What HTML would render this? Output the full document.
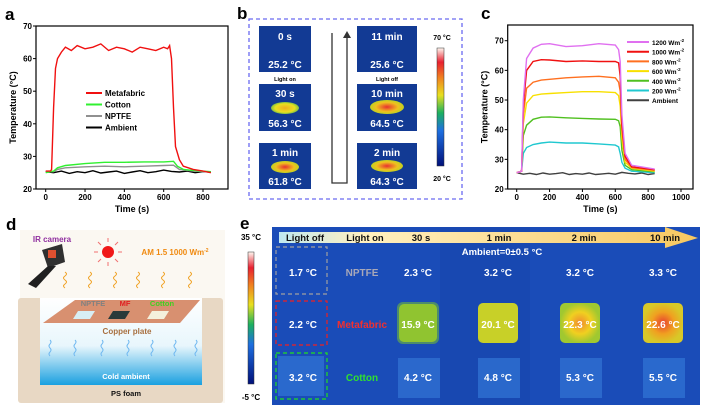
<!DOCTYPE html>
<html><head><meta charset="utf-8"><style>
body{margin:0;background:#fff;}
svg{display:block;font-family:"Liberation Sans",Arial,sans-serif;font-weight:bold;}
</style></head><body>
<svg id="fig" width="709" height="414" viewBox="0 0 709 414" xmlns="http://www.w3.org/2000/svg">
<defs>
<linearGradient id="jet" x1="0" y1="1" x2="0" y2="0">
<stop offset="0" stop-color="#00107a"/><stop offset="0.3" stop-color="#1e6fe0"/><stop offset="0.45" stop-color="#1cb060"/><stop offset="0.6" stop-color="#e8e020"/><stop offset="0.75" stop-color="#f08020"/><stop offset="0.88" stop-color="#e82030"/><stop offset="1" stop-color="#fff8f0"/>
</linearGradient>
<linearGradient id="cold" x1="0" y1="0" x2="0" y2="1"><stop offset="0" stop-color="#ffffff"/><stop offset="0.55" stop-color="#e8f6fc"/><stop offset="1" stop-color="#1aa0e0"/></linearGradient>
<linearGradient id="banner" x1="0" y1="0" x2="1" y2="0"><stop offset="0" stop-color="#bfe8f0"/><stop offset="0.2" stop-color="#fff0c0"/><stop offset="1" stop-color="#f8c860"/></linearGradient>
<radialGradient id="blobY"><stop offset="0" stop-color="#f0b020"/><stop offset="0.7" stop-color="#e8e020"/><stop offset="1" stop-color="#80c040"/></radialGradient>
<radialGradient id="blobR"><stop offset="0" stop-color="#e83030"/><stop offset="0.65" stop-color="#f0c020"/><stop offset="1" stop-color="#c0d020"/></radialGradient>
<radialGradient id="sqY"><stop offset="0" stop-color="#f08a30"/><stop offset="0.55" stop-color="#f0d020"/><stop offset="1" stop-color="#a0c830"/></radialGradient>
<radialGradient id="sqR"><stop offset="0" stop-color="#e84030"/><stop offset="0.55" stop-color="#f0a020"/><stop offset="1" stop-color="#d8c828"/></radialGradient>
</defs>

<text x="5" y="20" font-size="17">a</text>
<text x="237" y="19" font-size="17">b</text>
<text x="481" y="19" font-size="17">c</text>
<text x="6" y="230" font-size="17">d</text>
<text x="240" y="229" font-size="17">e</text>

<g id="chartA"></g>
<g id="chartC"></g>

<!-- panel b -->
<g>
<rect x="249" y="19" width="213" height="180" fill="none" stroke="#6a6af0" stroke-width="1.3" stroke-dasharray="4,3"/>
<g fill="#123a94">
<rect x="259" y="26" width="52" height="46"/><rect x="259" y="84" width="52" height="47"/><rect x="259" y="143" width="52" height="46"/>
<rect x="357" y="26" width="60" height="46"/><rect x="357" y="84" width="60" height="47"/><rect x="357" y="143" width="60" height="46"/>
</g>
<ellipse cx="285" cy="108" rx="14" ry="6" fill="url(#blobY)"/>
<ellipse cx="285" cy="167" rx="14" ry="6" fill="url(#blobR)"/>
<ellipse cx="387" cy="107" rx="17" ry="7" fill="url(#blobR)"/>
<ellipse cx="387" cy="166" rx="16" ry="6" fill="url(#blobR)"/>
<g fill="#fff" font-size="10" text-anchor="middle">
<text x="285" y="40">0 s</text><text x="285" y="68">25.2 °C</text>
<text x="285" y="97">30 s</text><text x="285" y="127">56.3 °C</text>
<text x="285" y="156">1 min</text><text x="285" y="185">61.8 °C</text>
<text x="387" y="40">11 min</text><text x="387" y="68">25.6 °C</text>
<text x="387" y="97">10 min</text><text x="387" y="127">64.5 °C</text>
<text x="387" y="156">2 min</text><text x="387" y="185">64.3 °C</text>
</g>
<text x="285" y="81" font-size="5.5" text-anchor="middle">Light on</text>
<text x="387" y="81" font-size="5.5" text-anchor="middle">Light off</text>
<polyline points="332,33 332,183 347,183 347,38" fill="none" stroke="#333" stroke-width="1.3"/>
<polygon points="343,38 351,38 347,31" fill="#333"/>
<rect x="437" y="48" width="7" height="118" fill="url(#jet)" stroke="#333" stroke-width="0.5"/>
<text x="442" y="40" font-size="7" text-anchor="middle">70 °C</text>
<text x="442" y="181" font-size="7" text-anchor="middle">20 °C</text>
</g>

<!-- panel d -->
<g>
<rect x="20" y="230" width="205" height="173" fill="#fbf8f2"/>
<rect x="18" y="298" width="205" height="105" rx="3" fill="#e8d8c4"/>
<rect x="40" y="298" width="162" height="87" fill="url(#cold)"/>
<polygon points="75,300 200,300 180,323 43,323" fill="#d89070"/>
<polygon points="78,311 95,311 90,319 73,319" fill="#d8eef4"/>
<polygon points="113,311 130,311 125,319 108,319" fill="#2a3a3a"/>
<polygon points="152,311 169,311 164,319 147,319" fill="#f4f0dc"/>
<text x="93" y="306" font-size="7.5" fill="#808080" text-anchor="middle">NPTFE</text>
<text x="125" y="306" font-size="7.5" fill="#e02020" text-anchor="middle">MF</text>
<text x="162" y="306" font-size="7.5" fill="#40d020" text-anchor="middle">Cotton</text>
<text x="127" y="334" font-size="8" fill="#a87040" text-anchor="middle">Copper plate</text>
<text x="126" y="379" font-size="7.5" fill="#fff" text-anchor="middle">Cold ambient</text>
<text x="126" y="396" font-size="7.5" fill="#111" text-anchor="middle">PS foam</text>
<text x="52" y="242" font-size="8" fill="#9030a0" text-anchor="middle">IR camera</text>
<g>
<polygon points="42,250 62,244 65,262 48,268" fill="#303030"/>
<rect x="48" y="250" width="8" height="8" fill="#e05030"/>
<polygon points="48,266 56,266 36,288 28,284" fill="#202020"/>
</g>
<circle cx="108" cy="252" r="6" fill="#f01818"/>
<g stroke="#f07070" stroke-width="1"><line x1="108" y1="242" x2="108" y2="238"/><line x1="108" y1="262" x2="108" y2="266"/><line x1="98" y1="252" x2="94" y2="252"/><line x1="118" y1="252" x2="122" y2="252"/><line x1="101" y1="245" x2="98" y2="242"/><line x1="115" y1="245" x2="118" y2="242"/><line x1="101" y1="259" x2="98" y2="262"/><line x1="115" y1="259" x2="118" y2="262"/></g>
<text x="175" y="255" font-size="8" fill="#f08a10" text-anchor="middle">AM 1.5 1000 Wm<tspan font-size="5" dy="-3">-2</tspan></text>
<g id="waves" fill="none" stroke="#f0a020" stroke-width="1"></g>
<g id="waves2" fill="none" stroke="#70b8f0" stroke-width="1"></g>
</g>

<!-- panel e -->
<g>
<rect x="272" y="227" width="428" height="178" fill="#1a4cb8"/>
<rect x="440" y="227" width="90" height="178" fill="#1746ac" opacity="0.6"/>
<polygon points="279,232 665,232 665,227 698,238 665,248 665,243 279,243" fill="url(#banner)"/>
<g font-size="9.5" fill="#111" text-anchor="middle">
<text x="305" y="241">Light off</text><text x="365" y="241">Light on</text><text x="421" y="241">30 s</text><text x="499" y="241">1 min</text><text x="584" y="241">2 min</text><text x="665" y="241">10 min</text>
</g>
<text x="502" y="255" font-size="9.5" fill="#fff" text-anchor="middle">Ambient=0±0.5 °C</text>
<rect x="276" y="247" width="51" height="47" fill="none" stroke="#a0a0a0" stroke-width="1.2" stroke-dasharray="4,3"/>
<rect x="276" y="301" width="51" height="44" fill="none" stroke="#f02020" stroke-width="1.2" stroke-dasharray="4,3"/>
<rect x="276" y="353" width="51" height="46" fill="none" stroke="#20e020" stroke-width="1.2" stroke-dasharray="4,3"/>
<g fill="#2e6ed0" opacity="0.85">
<rect x="278" y="356" width="46" height="40"/>
<rect x="398" y="358" width="42" height="40"/><rect x="478" y="358" width="42" height="40"/><rect x="560" y="358" width="42" height="40"/><rect x="643" y="358" width="42" height="40"/>
</g>
<rect x="397" y="302" width="42" height="42" rx="6" fill="#70b838" opacity="0.6"/>
<rect x="399" y="304" width="38" height="38" rx="5" fill="#90c430"/>
<rect x="478" y="303" width="40" height="40" rx="5" fill="#c8d028"/>
<rect x="560" y="303" width="40" height="40" rx="5" fill="url(#sqY)"/>
<rect x="643" y="303" width="40" height="40" rx="5" fill="url(#sqR)"/>
<g font-size="10" fill="#fff" text-anchor="middle">
<text x="303" y="276">1.7 °C</text><text x="362" y="276" fill="#a8a8b8">NPTFE</text><text x="418" y="276">2.3 °C</text><text x="498" y="276">3.2 °C</text><text x="580" y="276">3.2 °C</text><text x="663" y="276">3.3 °C</text>
<text x="303" y="328">2.2 °C</text><text x="362" y="328" fill="#f03030">Metafabric</text><text x="418" y="328">15.9 °C</text><text x="498" y="328">20.1 °C</text><text x="580" y="328">22.3 °C</text><text x="663" y="328">22.6 °C</text>
<text x="303" y="381">3.2 °C</text><text x="362" y="381" fill="#30e030">Cotton</text><text x="418" y="381">4.2 °C</text><text x="498" y="381">4.8 °C</text><text x="580" y="381">5.3 °C</text><text x="663" y="381">5.5 °C</text>
</g>
<rect x="248" y="252" width="6" height="132" fill="url(#jet)" stroke="#333" stroke-width="0.5"/>
<text x="251" y="240" font-size="8" text-anchor="middle">35 °C</text>
<text x="251" y="400" font-size="8" text-anchor="middle">-5 °C</text>
</g>
</svg>
<script>
// ---- panel a data ----
const aRedT=[0,25,30,40,50,60,80,100,130,160,200,240,280,320,360,400,440,480,520,560,600,620,630,640,650,660,680,700,750,800,840];
const aRedV=[25.5,25.5,26,45,57,60,62,63.5,62.5,64,63,63.5,64.5,62.5,63.5,63,62,63.5,63,62.5,63.5,63,64,60,45,33,29,27,26,25.5,25];
const aGreenT=[0,40,60,100,200,300,400,500,600,650,670,700,750,840];
const aGreenV=[25,25.5,26.5,27.2,27.8,28.2,28.2,28.3,28.3,28.5,27,26,25.7,25.3];
const aGrayT=[0,40,60,100,200,300,400,500,600,650,680,750,840];
const aGrayV=[25.3,25.3,26,26.5,26.8,27,26.8,27,27.2,27.3,26,25.5,25.2];
const aBlackT=[0,40,80,120,160,200,240,280,320,360,400,440,480,520,560,600,640,680,720,760,800,840];
const aBlackV=[25.3,25,25.5,24.8,25.3,25,25.6,24.9,25.2,25.5,24.8,25.2,25.6,25,25.3,25.8,25.4,25.2,25.5,25,25.3,25.2];
const aXTicks=[0,200,400,600,800];
const aYTicks=[20,30,40,50,60,70];
// ---- panel c data ----
const cT=[0,30,40,60,100,150,200,300,400,500,600,620,630,640,660,700,840];
const c1200=[25.5,26,50,64,67.5,68.8,69,68,68.3,69,68.5,67,63,45,32,28,26.7];
const c1000=[25.5,26,48,60,63,63.6,63.5,63,63.2,63,63,62.5,58,42,31,27.5,26.5];
const c800=[25.5,26,45,54,56,56.7,57,57.5,57.8,58,57.5,56,53,40,30,27.2,26.3];
const c600=[25.5,26,42,49,51.5,52,52.2,52.5,52.8,52.8,52.5,51.5,48,37,29,27,26];
const c400=[25.5,26,38,41.5,43.5,44.2,44.3,44,43.8,43.6,43.5,43,41,33,28,26.5,25.8];
const c200=[25.5,26,32,34,35,35.5,35.8,35.5,35.5,35.2,34.8,34.2,32,29,27,26,25.5];
const cAmbT=[0,40,80,120,160,200,240,280,320,360,400,440,480,520,560,600,640,680,720,760,800,840];
const cAmbV=[25.5,25,25.3,24.9,25.4,25,25.2,25.5,24.9,25.2,25,25.4,24.9,25.1,25.3,25,25.6,25.3,25.1,25.4,24.9,25.2];
const cXTicks=[0,200,400,600,800,1000];
const cYTicks=[20,30,40,50,60,70];

const NS="http://www.w3.org/2000/svg";
function mk(tag,attrs,parent){const e=document.createElementNS(NS,tag);for(const k in attrs)e.setAttribute(k,attrs[k]);parent.appendChild(e);return e;}

function drawChart(g,o){
  const sx=t=>o.x0+(t-o.xmin)/(o.xmax-o.xmin)*(o.x1-o.x0);
  const sy=v=>o.y1-(v-o.ymin)/(o.ymax-o.ymin)*(o.y1-o.y0);
  o.series.forEach(s=>{
    const p=mk('polyline',{points:s.t.map((t,i)=>sx(t).toFixed(1)+','+sy(s.v[i]).toFixed(1)).join(' '),fill:'none',stroke:s.c,'stroke-width':1.4},g);
    
    
  });
  const box=mk('rect',{x:o.bx0,y:o.by0,width:o.bx1-o.bx0,height:o.y1-o.by0,fill:'none',stroke:'#000','stroke-width':1.2},g);
  
  
  o.xt.forEach(t=>{
    mk('line',{x1:sx(t),x2:sx(t),y1:o.y1,y2:o.y1+3,stroke:'#000'},g);
    const tx=mk('text',{x:sx(t),y:o.y1+11,'font-size':8,'text-anchor':'middle'},g);tx.textContent=t;
    
    
  });
  o.yt.forEach(v=>{
    mk('line',{x1:o.bx0,x2:o.bx0-3,y1:sy(v),y2:sy(v),stroke:'#000'},g);
    const tx=mk('text',{x:o.bx0-4,y:sy(v)+3,'font-size':8,'text-anchor':'end'},g);tx.textContent=v;
    
    
  });
  const xl=mk('text',{x:(o.bx0+o.bx1)/2,y:o.y1+23,'font-size':9,'text-anchor':'middle'},g);xl.textContent='Time (s)';
  
  
  const yl=mk('text',{x:0,y:0,'font-size':9,'text-anchor':'middle',transform:`translate(${o.bx0-20},${(o.by0+o.y1)/2}) rotate(-90)`},g);yl.textContent='Temperature (°C)';
  
  
  o.legend.forEach((l,i)=>{
    const y=o.ly+i*o.ldy;
    mk('line',{x1:o.lx,x2:o.lx+o.lw,y1:y,y2:y,stroke:l.c,'stroke-width':2},g);
    const tx=mk('text',{x:o.lx+o.lw+3,y:y+3,'font-size':o.lfs},g);tx.innerHTML=l.label;
    
    
  });
}
drawChart(document.getElementById('chartA'),{x0:45.7,x1:203,xmin:0,xmax:800,y0:26,y1:189,ymin:20,ymax:70,bx0:36,bx1:228,by0:26,
  xt:aXTicks,yt:aYTicks,
  series:[{t:aBlackT,v:aBlackV,c:'#000',name:'ambient-line'},{t:aGrayT,v:aGrayV,c:'#909090',name:'nptfe-line'},{t:aGreenT,v:aGreenV,c:'#30f030',name:'cotton-line'},{t:aRedT,v:aRedV,c:'#f01010',name:'metafabric-line'}],
  legend:[{c:'#f01010',label:'Metafabric'},{c:'#30f030',label:'Cotton'},{c:'#909090',label:'NPTFE'},{c:'#000',label:'Ambient'}],lx:86,lw:16,ly:93,ldy:11.5,lfs:8});
drawChart(document.getElementById('chartC'),{x0:516.7,x1:681,xmin:0,xmax:1000,y0:40.7,y1:189,ymin:20,ymax:70,bx0:507.7,bx1:693,by0:25,
  xt:cXTicks,yt:cYTicks,
  series:[{t:cAmbT,v:cAmbV,c:'#404040',name:'ambient-line'},{t:cT,v:c200,c:'#20c8d0',name:'line-200'},{t:cT,v:c400,c:'#50c020',name:'line-400'},{t:cT,v:c600,c:'#f8e000',name:'line-600'},{t:cT,v:c800,c:'#ff7020',name:'line-800'},{t:cT,v:c1000,c:'#f01010',name:'line-1000'},{t:cT,v:c1200,c:'#e070f0',name:'line-1200'}],
  legend:[{c:'#e070f0',label:'1200 Wm<tspan font-size="4.5" dy="-3">-2</tspan>'},{c:'#f01010',label:'1000 Wm<tspan font-size="4.5" dy="-3">-2</tspan>'},{c:'#ff7020',label:'800 Wm<tspan font-size="4.5" dy="-3">-2</tspan>'},{c:'#f8e000',label:'600 Wm<tspan font-size="4.5" dy="-3">-2</tspan>'},{c:'#50c020',label:'400 Wm<tspan font-size="4.5" dy="-3">-2</tspan>'},{c:'#20c8d0',label:'200 Wm<tspan font-size="4.5" dy="-3">-2</tspan>'},{c:'#404040',label:'Ambient'}],lx:627,lw:22,ly:42,ldy:9.7,lfs:6.5});

const w=document.getElementById('waves'),w2=document.getElementById('waves2');
[65,90,115,138,163,190].forEach(x=>{mk('path',{d:`M${x},272 q3,2 0,4 q-3,2 0,4 q3,2 0,4 q-3,2 0,4`},w);});
[50,75,102,128,152,175,196].forEach(x=>{mk('path',{d:`M${x},340 q2,2 0,4 q-2,2 0,4 q2,2 0,4 q-2,2 0,4`},w2);});
</script>
</body></html>
